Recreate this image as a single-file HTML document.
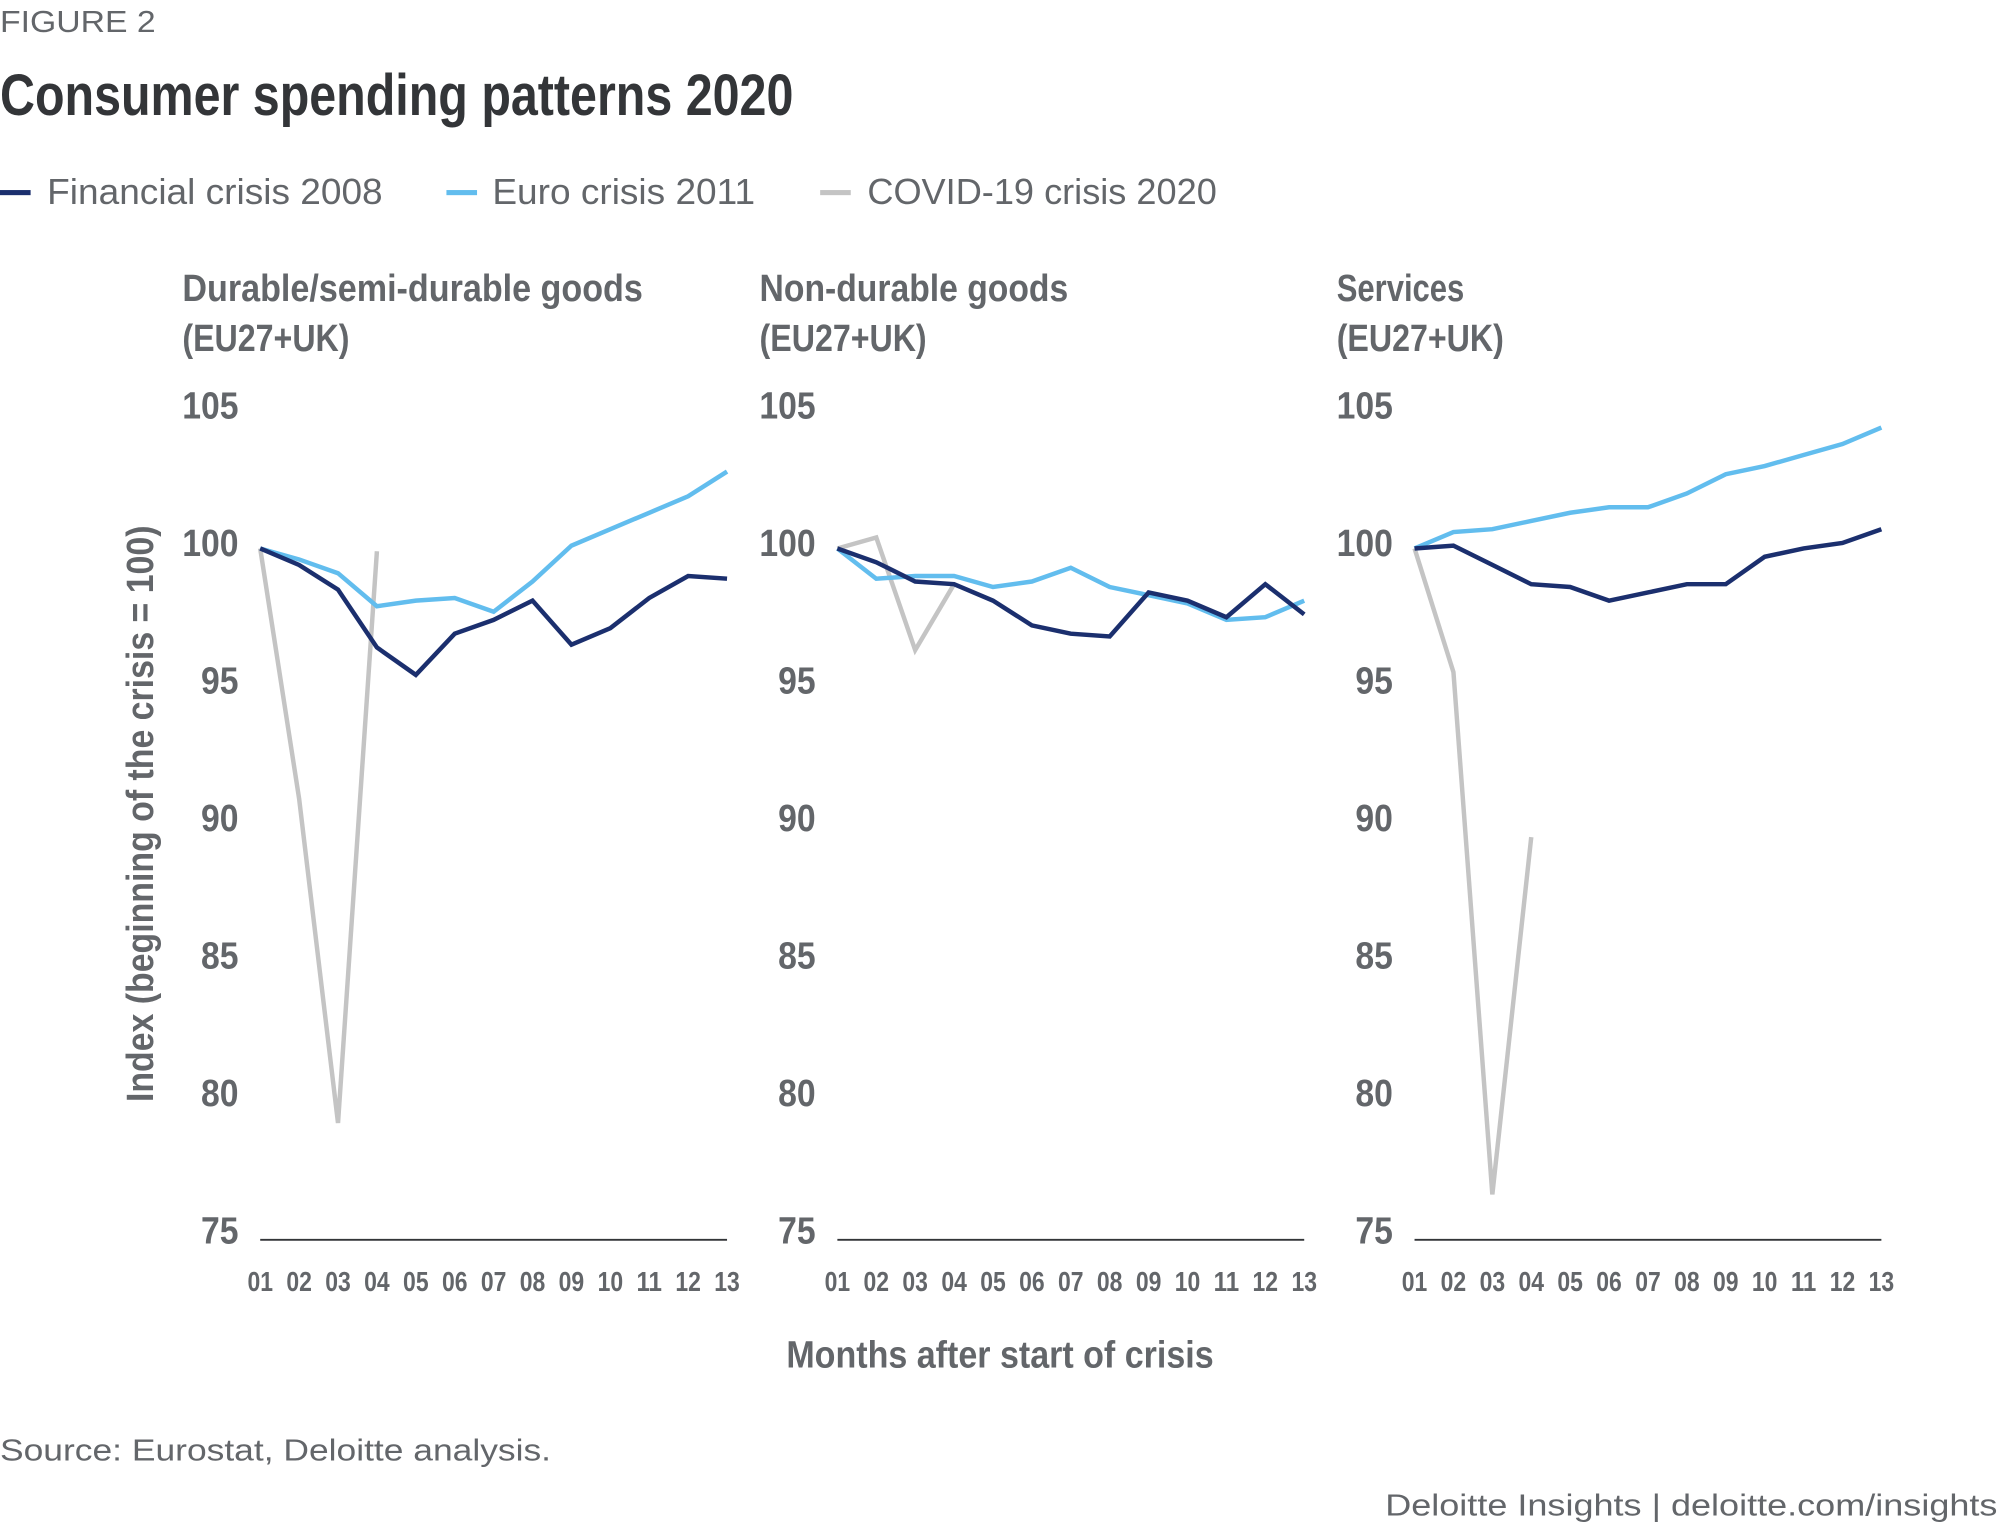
<!DOCTYPE html>
<html><head><meta charset="utf-8">
<style>
html,body{margin:0;padding:0;background:#fff;}
svg{display:block;}
text{font-family:"Liberation Sans Narrow","Liberation Sans",sans-serif;}
.reg{font-family:"Liberation Sans",sans-serif;}
</style></head>
<body>
<svg id="chart" width="2000" height="1524" viewBox="0 0 1568 1194.8" preserveAspectRatio="none" xmlns="http://www.w3.org/2000/svg">
<text class="reg" x="0" y="25" font-size="24" fill="#63666a" textLength="122" lengthAdjust="spacingAndGlyphs">FIGURE 2</text>
<text x="0" y="90" font-size="46" font-weight="bold" fill="#333538" textLength="622" lengthAdjust="spacingAndGlyphs">Consumer spending patterns 2020</text>
<g>
 <g><rect x="0" y="149" width="24" height="4" fill="#1b2f6e"/><text class="reg" x="37" y="160" font-size="28" fill="#63666a" textLength="263" lengthAdjust="spacingAndGlyphs">Financial crisis 2008</text></g>
 <g><rect x="350" y="149" width="24" height="4" fill="#62bdee"/><text class="reg" x="386" y="160" font-size="28" fill="#63666a" textLength="206" lengthAdjust="spacingAndGlyphs">Euro crisis 2011</text></g>
 <g><rect x="643" y="149" width="24" height="4" fill="#c4c4c4"/><text class="reg" x="680" y="160" font-size="28" fill="#63666a" textLength="274" lengthAdjust="spacingAndGlyphs">COVID-19 crisis 2020</text></g>
</g>
<text transform="translate(120,638) rotate(-90)" text-anchor="middle" font-size="30" font-weight="bold" fill="#63666a" textLength="452" lengthAdjust="spacingAndGlyphs">Index (beginning of the crisis = 100)</text>
<text x="784" y="1072" text-anchor="middle" font-size="30" font-weight="bold" fill="#63666a" textLength="335" lengthAdjust="spacingAndGlyphs">Months after start of crisis</text>
<text class="reg" x="0" y="1145" font-size="24" fill="#63666a" textLength="432" lengthAdjust="spacingAndGlyphs">Source: Eurostat, Deloitte analysis.</text>
<text class="reg" x="1566" y="1188" text-anchor="end" font-size="24" fill="#63666a" textLength="480" lengthAdjust="spacingAndGlyphs">Deloitte Insights | deloitte.com/insights</text>
<g id="panels"></g>
</svg>
<script>
const months = ["01","02","03","04","05","06","07","08","09","10","11","12","13"];
const yTicks = [105,100,95,90,85,80,75];
const panelTitles1 = ["Durable/semi-durable goods","Non-durable goods","Services"];
const panelTitleWidths = [361,242,100];
const durableFinancial = [100,99.4,98.5,96.4,95.4,96.9,97.4,98.1,96.5,97.1,98.2,99.0,98.9];
const durableEuro = [100,99.6,99.1,97.9,98.1,98.2,97.7,98.8,100.1,100.7,101.3,101.9,102.8];
const durableCovid = [100,90.9,79.1,99.9];
const nondurableFinancial = [100,99.5,98.8,98.7,98.1,97.2,96.9,96.8,98.4,98.1,97.5,98.7,97.6];
const nondurableEuro = [100,98.9,99.0,99.0,98.6,98.8,99.3,98.6,98.3,98.0,97.4,97.5,98.1];
const nondurableCovid = [100,100.4,96.3,98.7];
const servicesFinancial = [100,100.1,99.4,98.7,98.6,98.1,98.4,98.7,98.7,99.7,100.0,100.2,100.7];
const servicesEuro = [100,100.6,100.7,101.0,101.3,101.5,101.5,102.0,102.7,103.0,103.4,103.8,104.4];
const servicesCovid = [100,95.5,76.5,89.5];

const NS="http://www.w3.org/2000/svg";
const root=document.getElementById('panels');
function yScale(v){return 430-(v-100)*21.55;}
function mk(tag,attrs,parent){const e=document.createElementNS(NS,tag);for(const k in attrs)e.setAttribute(k,attrs[k]);parent.appendChild(e);return e;}
const panels=[
 {key:'durable',fin:durableFinancial,euro:durableEuro,covid:durableCovid},
 {key:'nondurable',fin:nondurableFinancial,euro:nondurableEuro,covid:nondurableCovid},
 {key:'services',fin:servicesFinancial,euro:servicesEuro,covid:servicesCovid}
];
panels.forEach((p,i)=>{
 const off=i*452.5;
 const x0=204+off, step=(570-204)/12;
 const xScale=j=>x0+j*step;
 const g=mk('g',{},root);
 
 
 const t1=mk('text',{x:143+off,y:236,'font-size':30,'font-weight':'bold',fill:'#63666a',textLength:panelTitleWidths[i],lengthAdjust:'spacingAndGlyphs'},g);
 t1.textContent=panelTitles1[i];
 
 
 const t2=mk('text',{x:143+off,y:275,'font-size':30,'font-weight':'bold',fill:'#63666a',textLength:131,lengthAdjust:'spacingAndGlyphs'},g);
 t2.textContent="(EU27+UK)";
 
 
 yTicks.forEach(v=>{
  const s=String(v);
  const t=mk('text',{x:187+off,y:yScale(v)+6,'text-anchor':'end','font-size':30,'font-weight':'bold',fill:'#63666a',textLength:s.length*14.7,lengthAdjust:'spacingAndGlyphs'},g);
  t.textContent=s;
  
  
 });
 const ax=mk('line',{x1:x0,x2:xScale(12),y1:972,y2:972,stroke:'#333538','stroke-width':1.5},g);
 
 
 months.forEach((m,j)=>{
  const t=mk('text',{x:xScale(j),y:1012,'text-anchor':'middle','font-size':22,'font-weight':'bold',fill:'#63666a',textLength:20,lengthAdjust:'spacingAndGlyphs'},g);
  t.textContent=m;
  
  
 });
 [['covid',p.covid,'#c4c4c4'],['euro',p.euro,'#62bdee'],['financial',p.fin,'#1b2f6e']].forEach(([n,arr,c])=>{
  const pts=arr.map((v,j)=>xScale(j).toFixed(1)+','+yScale(v).toFixed(1)).join(' ');
  const l=mk('polyline',{points:pts,fill:'none',stroke:c,'stroke-width':3.5,'stroke-linejoin':'miter'},g);
  
  
 });
});
</script>
</body></html>
